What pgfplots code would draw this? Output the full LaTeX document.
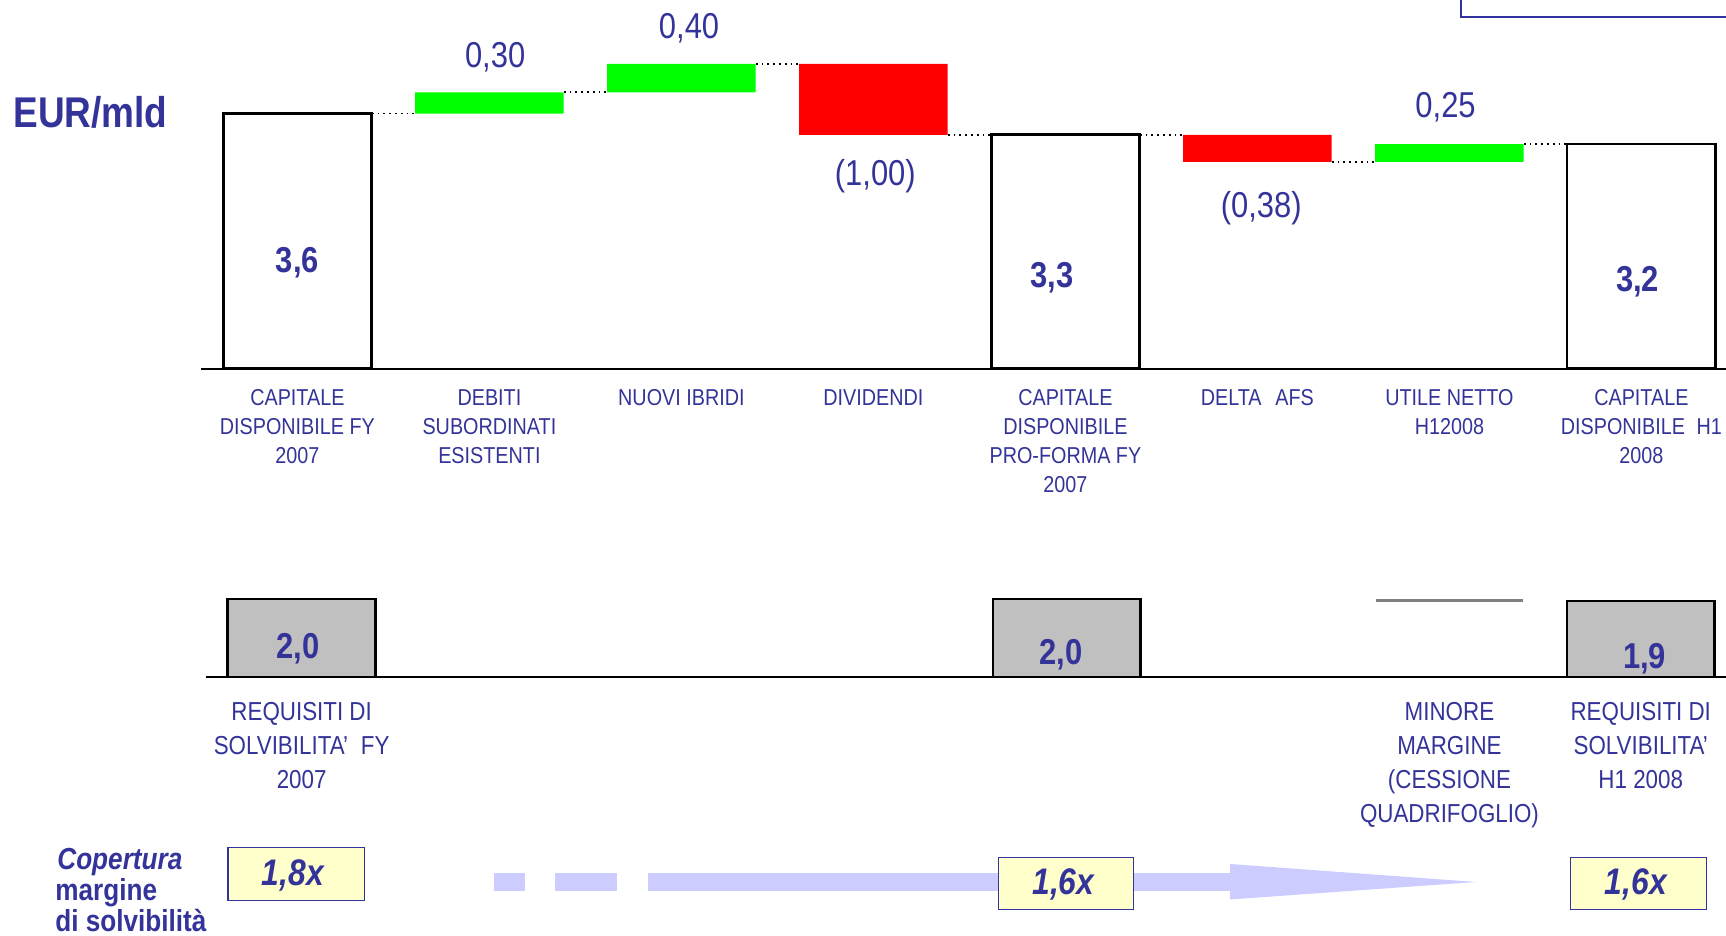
\documentclass[border=0pt]{standalone}
\usepackage{fontspec}
\setmainfont{Liberation Sans}[FakeStretch=0.86]
\usepackage{pgfplots}
\pgfplotsset{compat=1.18}
\definecolor{txt}{HTML}{333399}
\definecolor{ggreen}{HTML}{00FF00}
\definecolor{rred}{HTML}{FF0000}
\definecolor{silver}{HTML}{C0C0C0}
\definecolor{dgray}{HTML}{808080}
\definecolor{lav}{HTML}{CCCCFF}
\definecolor{lyel}{HTML}{FFFFCC}
\definecolor{frame}{HTML}{3333A0}
\pgfplotsset{
  wfbase/.style={scale only axis, width=768pt, xmin=-0.5, xmax=7.5, ymin=0,
    clip=false, bar width=74.3pt, xtick={0,...,7}, ytick=\empty},
  wf/.style={wfbase, axis y line=none, axis x line=bottom,
    x axis line style={-, black, line width=0.75pt}, major tick length=0pt,
    xticklabel style={text=txt, align=center, anchor=north}},
}
\newcommand{\vlab}[3]{\node[text=txt, yshift=-1.4pt, font=\fontsize{18}{20}\selectfont] at (axis cs:#1,#2) {#3};}
\newcommand{\blab}[3]{\node[text=txt, yshift=-1.4pt, font=\fontsize{18}{20}\selectfont\bfseries] at (axis cs:#1,#2) {#3};}
\begin{document}
\begin{tikzpicture}
% ---------- top waterfall: floating bars ----------
\begin{axis}[wfbase, hide axis, ybar stacked, at={(100.7pt,283.6pt)}, anchor=south west,
  height=184.34pt, ymax=5.2]
\addplot[draw=none, fill=none] coordinates {(0,0) (1,3.6) (2,3.9) (3,3.3) (4,0) (5,2.92) (6,2.92) (7,0)};
\addplot[draw=none, fill=ggreen] coordinates {(0,0) (1,0.30) (2,0.40) (3,0) (4,0) (5,0) (6,0.25) (7,0)};
\addplot[draw=none, fill=rred] coordinates {(0,0) (1,0) (2,0) (3,1.00) (4,0) (5,0.38) (6,0) (7,0)};
\end{axis}
% ---------- top waterfall: totals, connectors, labels ----------
\begin{axis}[wf, at={(100.7pt,283.6pt)}, anchor=south west, height=184.34pt, ymax=5.2,
  xticklabels={{CAPITALE\\DISPONIBILE FY\\2007},{DEBITI\\SUBORDINATI\\ESISTENTI},{NUOVI IBRIDI},{DIVIDENDI},{CAPITALE\\DISPONIBILE\\PRO-FORMA FY\\2007},{DELTA\hspace{0.6em}AFS},{UTILE NETTO\\H12008},{CAPITALE\\DISPONIBILE\hspace{0.5em}H1\\2008}},
  xticklabel style={font=\fontsize{11.5}{14.5}\selectfont, yshift=-7pt}]
\addplot[ybar, bar shift=0pt, fill=white, draw=black, line width=1.4pt] coordinates {(0,3.6) (4,3.3) (7,3.17)};
\pgfplotsset{cycle list={{black, dotted, line width=0.9pt}}}
\addplot[black, dotted, line width=0.9pt] coordinates {(0.387,3.6) (0.613,3.6)};
\addplot[black, dotted, line width=0.9pt] coordinates {(1.387,3.9) (1.613,3.9)};
\addplot[black, dotted, line width=0.9pt] coordinates {(2.387,4.3) (2.613,4.3)};
\addplot[black, dotted, line width=0.9pt] coordinates {(3.387,3.3) (3.613,3.3)};
\addplot[black, dotted, line width=0.9pt] coordinates {(4.387,3.3) (4.613,3.3)};
\addplot[black, dotted, line width=0.9pt] coordinates {(5.387,2.92) (5.613,2.92)};
\addplot[black, dotted, line width=0.9pt] coordinates {(6.387,3.17) (6.613,3.17)};
\blab{0}{1.54}{3,6}
\vlab{1.03}{4.43}{0,30}
\vlab{2.04}{4.84}{0,40}
\vlab{3.01}{2.76}{(1,00)}
\blab{3.93}{1.32}{3,3}
\vlab{5.02}{2.31}{(0,38)}
\vlab{5.98}{3.73}{0,25}
\blab{6.98}{1.27}{3,2}
\end{axis}
% ---------- bottom panel: solvency requirements ----------
\begin{axis}[wf, at={(103pt,129.5pt)}, anchor=south west, width=765.2pt, height=58.5pt, ymax=3,
  bar width=73.8pt,
  xticklabels={{REQUISITI DI\\SOLVIBILITA'\hspace{0.5em}FY\\2007},{},{},{},{},{},{MINORE\\MARGINE\\(CESSIONE\\QUADRIFOGLIO)},{REQUISITI DI\\SOLVIBILITA'\\H1 2008}},
  xticklabel style={font=\fontsize{13}{17}\selectfont, yshift=-9pt}]
\addplot[ybar, bar shift=0pt, fill=silver, draw=black, line width=1.4pt] coordinates {(0,2.0) (4,2.0) (7,1.95)};
\addplot[dgray, line width=1.5pt] coordinates {(5.614,1.96) (6.386,1.96)};
\blab{-0.02}{0.79}{2,0}
\blab{3.97}{0.65}{2,0}
\blab{7.02}{0.54}{1,9}
\end{axis}
% ---------- coverage row ----------
\fill[lav] (247pt,22.7pt) rectangle (262.5pt,31.3pt);
\fill[lav] (277.5pt,22.7pt) rectangle (308.5pt,31.3pt);
\fill[lav] (324pt,22.7pt) rectangle (616pt,31.3pt);
\fill[lav] (615pt,18.25pt) -- (738pt,27pt) -- (615pt,36pt) -- cycle;
\draw[frame, line width=0.6pt, fill=lyel] (113.95pt,17.8pt) rectangle (182.2pt,44.2pt);
\draw[frame, line width=0.6pt, fill=lyel] (499.2pt,13.35pt) rectangle (566.9pt,39.25pt);
\draw[frame, line width=0.6pt, fill=lyel] (785.4pt,13.35pt) rectangle (853.1pt,39.25pt);
\node[text=txt, font=\fontsize{18.5}{20}\selectfont\bfseries\itshape] at (146.4pt,30.5pt) {1,8x};
\node[text=txt, font=\fontsize{18.5}{20}\selectfont\bfseries\itshape] at (531.7pt,26pt) {1,6x};
\node[text=txt, font=\fontsize{18.5}{20}\selectfont\bfseries\itshape] at (817.9pt,26pt) {1,6x};
\node[text=txt, font=\fontsize{15.2}{16}\selectfont\bfseries\itshape, anchor=base west, inner sep=0pt] at (28.5pt,33.3pt) {Copertura};
\node[text=txt, font=\fontsize{15.2}{16}\selectfont\bfseries, anchor=base west, inner sep=0pt] at (27.5pt,17.9pt) {margine};
\node[text=txt, font=\fontsize{15.2}{16}\selectfont\bfseries, anchor=base west, inner sep=0pt] at (27.5pt,2.3pt) {di solvibilità};
% ---------- title and top-right frame ----------
\node[text=txt, font=\fontsize{21.5}{24}\selectfont\bfseries, anchor=base west, inner sep=0pt] at (6.5pt,404.2pt) {EUR/mld};
\draw[frame, line width=1pt] (730.3pt,480pt) -- (730.3pt,459.7pt) -- (880pt,459.7pt);
\pgfresetboundingbox
\path[use as bounding box] (0,0) rectangle (863pt,468pt);
\end{tikzpicture}
\end{document}
